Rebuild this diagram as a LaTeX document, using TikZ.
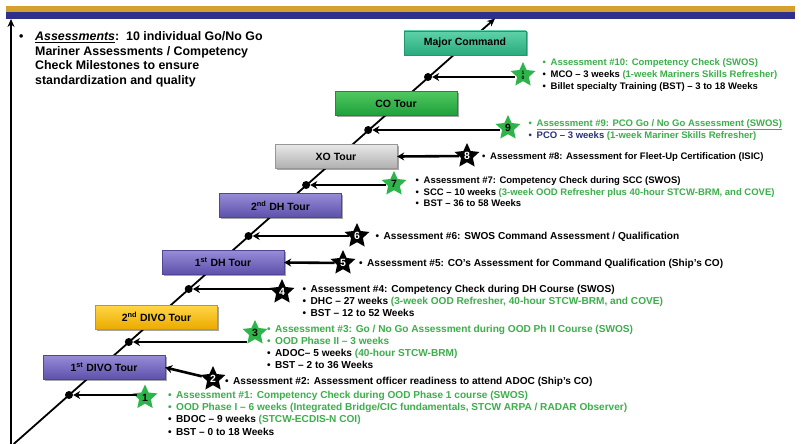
\documentclass[tikz,border=0pt]{standalone}
\usepackage{fontspec}
\setmainfont{Liberation Sans}
\usetikzlibrary{arrows.meta,shapes.geometric,shadows}

\definecolor{barGold}{RGB}{212,160,48}
\definecolor{barNavy}{RGB}{46,49,140}
\definecolor{txtGreen}{RGB}{60,175,75}
\definecolor{txtNavy}{RGB}{40,50,120}
\definecolor{starGreen}{RGB}{45,180,74}
\definecolor{purTop}{RGB}{150,140,215}
\definecolor{purBot}{RGB}{92,80,170}
\definecolor{purLine}{RGB}{80,70,150}
\definecolor{golTop}{RGB}{255,215,70}
\definecolor{golBot}{RGB}{235,170,0}
\definecolor{golLine}{RGB}{200,150,20}
\definecolor{gryTop}{RGB}{232,232,232}
\definecolor{gryBot}{RGB}{175,175,175}
\definecolor{gryLine}{RGB}{150,150,150}
\definecolor{grnTop}{RGB}{80,200,95}
\definecolor{grnBot}{RGB}{30,160,60}
\definecolor{grnLine}{RGB}{30,140,55}
\definecolor{tealTop}{RGB}{95,210,170}
\definecolor{tealBot}{RGB}{40,170,125}
\definecolor{tealLine}{RGB}{35,150,110}

\newcommand\blt{\makebox[8pt][l]{\textbullet}}
\newcommand\gr[1]{\textcolor{txtGreen}{#1}}

\tikzset{
  axisline/.style={line width=1.8pt, -{Stealth[length=8pt,width=7pt]}},
  ptr/.style={line width=2.6pt, -{Stealth[length=7pt,width=8pt]}},
  dot/.style={circle, fill=black, inner sep=0pt, minimum size=8pt},
  tour/.style={rectangle, minimum width=122pt, minimum height=24pt, inner sep=0pt,
    font=\fontsize{10.5}{12}\selectfont\bfseries,
    drop shadow={shadow xshift=1.5pt, shadow yshift=-1.5pt, opacity=0.35, fill=black}},
  tpurple/.style={tour, top color=purTop, bottom color=purBot, draw=purLine},
  tgold/.style={tour, top color=golTop, bottom color=golBot, draw=golLine},
  tgray/.style={tour, top color=gryTop, bottom color=gryBot, draw=gryLine},
  tgreen/.style={tour, top color=grnTop, bottom color=grnBot, draw=grnLine},
  tteal/.style={tour, top color=tealTop, bottom color=tealBot, draw=tealLine},
  starbase/.style={star, star points=5, star point ratio=2.1, minimum size=26pt,
    inner sep=0pt, font=\fontsize{10.5}{10.5}\selectfont\bfseries},
  gstar/.style={starbase, fill=starGreen, text=black},
  bstar/.style={starbase, fill=black, text=white},
  txt/.style={anchor=base west, inner sep=0pt, font=\fontsize{9.5}{11}\selectfont\bfseries},
  txtl/.style={anchor=base west, inner sep=0pt, font=\fontsize{10.1}{11}\selectfont\bfseries},
  intro/.style={anchor=base west, inner sep=0pt, font=\fontsize{12.4}{15}\selectfont\bfseries},
}

\begin{document}
\begin{tikzpicture}[x=1pt,y=-1pt]
\useasboundingbox (0,0) rectangle (801,444);
\fill[white] (0,0) rectangle (801,444);

% top bar
\fill[barGold] (6,6) rectangle (795,12.5);
\fill[barNavy] (6,12.5) rectangle (795,19);

% axes
\coordinate (vb) at (11,444);
\coordinate (vt) at (11,19);
\draw[axisline] (vb) -- (vt);
\coordinate (lb) at (13.7,444);
\coordinate (lt) at (495,18.5);
\draw[axisline] (lb) -- (lt);

% dots on the career line
\node[dot] (d1) at (69,395) {};
\node[dot] (d3) at (128.8,342) {};
\node[dot] (d4) at (188.7,289) {};
\node[dot] (d6) at (248.5,236) {};
\node[dot] (d7) at (306.1,185) {};
\node[dot] (d9) at (368.2,130) {};
\node[dot] (d10) at (428,77) {};

% tour boxes
\node[tpurple] (b1) at (104,367.5) {1\textsuperscript{st} DIVO Tour};
\node[tgold] (b2) at (156.5,317) {2\textsuperscript{nd} DIVO Tour};
\node[tpurple] (dh1) at (223,262.5) {1\textsuperscript{st} DH Tour};
\node[tpurple] (dh2) at (280.5,205.5) {2\textsuperscript{nd} DH Tour};
\node[tgray] (xo) at (336,156.5) {XO Tour};
\node[tgreen] (co) at (396,103.5) {CO Tour};
\node[tteal] (mc) at (465,43) {Major Command};

% stars
\node[gstar] (s1) at (145,397.5) {1};
\node[bstar] (s2) at (213,379) {2};
\node[gstar] (s3) at (255,333) {3};
\node[bstar] (s4) at (282,292) {4};
\node[bstar] (s5) at (343,263) {5};
\node[bstar] (s6) at (357,236) {6};
\node[gstar] (s7) at (394,184) {7};
\node[bstar] (s8) at (467,156) {8};
\node[gstar] (s9) at (508,128) {9};
\node[gstar, align=center, font=\fontsize{5}{5}\selectfont\bfseries] (s10) at (523,75) {1\\0};

% pointers
\draw[ptr] (s1.west |- d1) -- (d1);
\draw[ptr] (s2) -- (b1.east);
\draw[ptr] (s3.west |- d3) -- (d3);
\draw[ptr] (s4.west |- d4) -- (d4);
\draw[ptr] (s5) -- (dh1.east);
\draw[ptr] (s6.west |- d6) -- (d6);
\draw[ptr] (s7.west |- d7) -- (d7);
\draw[ptr] (s8) -- (xo.east);
\draw[ptr] (s9.west |- d9) -- (d9);
\draw[ptr] (s10.west |- d10) -- (d10);

% intro text
\node[intro] (i1) at (19,40.4) {\makebox[16pt][l]{\textbullet}\underline{\textit{Assessments}}:\ \ 10 individual Go/No Go};
\node[intro] (i2) at (35,55.4) {Mariner Assessments / Competency};
\node[intro] (i3) at (35,70) {Check Milestones to ensure};
\node[intro] (i4) at (35,84.4) {standardization and quality};

% assessment 10
\node[txt, text=txtGreen] (t10a) at (542.5,65.5) {\blt Assessment \#10: Competency Check (SWOS)};
\node[txt] (t10b) at (542.5,77.7) {\blt MCO – 3 weeks \gr{(1-week Mariners Skills Refresher)}};
\node[txt] (t10c) at (542.5,90) {\blt Billet specialty Training (BST) – 3 to 18 Weeks};
% assessment 9
\node[txt, text=txtGreen] (t9a) at (528.5,126) {\blt \underline{Assessment \#9: PCO Go / No Go Assessment (SWOS)}};
\node[txt, text=txtNavy] (t9b) at (528.5,138.3) {\blt PCO – 3 weeks \gr{(1-week Mariner Skills Refresher)}};
% assessment 8
\node[txt] (t8) at (482,159.5) {\blt Assessment \#8: Assessment for Fleet-Up Certification (ISIC)};
% assessment 7
\node[txt] (t7a) at (415.5,183.3) {\blt Assessment \#7: Competency Check during SCC (SWOS)};
\node[txt] (t7b) at (415.5,195) {\blt SCC – 10 weeks \gr{(3-week OOD Refresher plus 40-hour STCW-BRM, and COVE)}};
\node[txt] (t7c) at (415.5,206.5) {\blt BST – 36 to 58 Weeks};
% assessment 6
\node[txtl] (t6) at (375.5,239.5) {\blt Assessment \#6: SWOS Command Assessment / Qualification};
% assessment 5
\node[txtl] (t5) at (359,266.5) {\blt Assessment \#5: CO’s Assessment for Command Qualification (Ship’s CO)};
% assessment 4
\node[txtl] (t4a) at (302.5,292.5) {\blt Assessment \#4: Competency Check during DH Course (SWOS)};
\node[txtl] (t4b) at (302.5,304.3) {\blt DHC – 27 weeks \gr{(3-week OOD Refresher, 40-hour STCW-BRM, and COVE)}};
\node[txtl] (t4c) at (302.5,316.5) {\blt BST – 12 to 52 Weeks};
% assessment 3
\node[txtl, text=txtGreen] (t3a) at (267,332.5) {\blt Assessment \#3: Go / No Go Assessment during OOD Ph II Course (SWOS)};
\node[txtl, text=txtGreen] (t3b) at (267,344.3) {\blt OOD Phase II – 3 weeks};
\node[txtl] (t3c) at (267,356) {\blt ADOC– 5 weeks \gr{(40-hour STCW-BRM)}};
\node[txtl] (t3d) at (267,368.3) {\blt BST – 2 to 36 Weeks};
% assessment 2
\node[txtl] (t2) at (225,384) {\blt Assessment \#2: Assessment officer readiness to attend ADOC (Ship’s CO)};
% assessment 1
\node[txtl, text=txtGreen] (t1a) at (168,398.3) {\blt Assessment \#1: Competency Check during OOD Phase 1 course (SWOS)};
\node[txtl, text=txtGreen] (t1b) at (168,410.3) {\blt OOD Phase I – 6 weeks (Integrated Bridge/CIC fundamentals, STCW ARPA / RADAR Observer)};
\node[txtl] (t1c) at (168,422.5) {\blt BDOC – 9 weeks \gr{(STCW-ECDIS-N COI)}};
\node[txtl] (t1d) at (168,435) {\blt BST – 0 to 18 Weeks};
\end{tikzpicture}
\end{document}
